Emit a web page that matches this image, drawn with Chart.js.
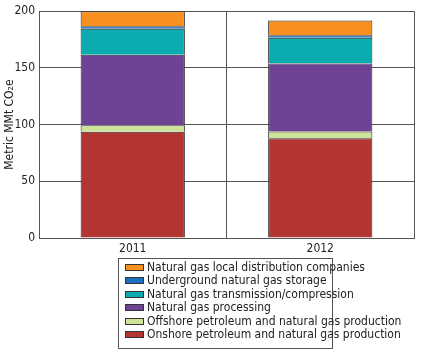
<!DOCTYPE html>
<html>
<head>
<meta charset="utf-8">
<script src="https://cdn.jsdelivr.net/npm/chart.js@4"></script>
<style>
    body { margin: 0; background: #fff; }
    #wrap { position: relative; width: 421px; height: 352px; }
    #legendBox {
        position: absolute; left: 118px; top: 258px; width: 213px; height: 87px;
        border: 1px solid #555; box-sizing: content-box;
        font-family: "Liberation Sans Narrow", "DejaVu Sans Condensed", sans-serif;
        font-size: 12px; color: #222; padding-top: 2px;
    }
    .item { height: 13.4px; line-height: 13.4px; white-space: nowrap; }
    .sw { display: inline-block; width: 17px; height: 5px; border: 1px solid #333; margin: 0 3px 0 6px; vertical-align: middle; }
</style>
</head>
<body>
<div id="wrap">
    <canvas id="chart" width="421" height="352"></canvas>
    <div id="legendBox"></div>
</div>
<script>
    const years = ['2011', '2012'];
    const seriesNames = [
        'Onshore petroleum and natural gas production',
        'Offshore petroleum and natural gas production',
        'Natural gas processing',
        'Natural gas transmission/compression',
        'Underground natural gas storage',
        'Natural gas local distribution companies'
    ];
    const onshore = [93.6, 88.0];
    const offshore = [5.8, 5.9];
    const processing = [62.3, 59.9];
    const transmission = [22.8, 22.8];
    const storage = [2.3, 2.3];
    const ldc = [13.2, 12.9];
    const yTicks = [0, 50, 100, 150, 200];

    const colors = ['#b33532', '#cde39a', '#6f4393', '#0aacb0', '#1f6fc0', '#f7901e'];
    const values = [onshore, offshore, processing, transmission, storage, ldc];

    const fontFam = '"Liberation Sans Narrow", "DejaVu Sans Condensed", sans-serif';

    let ctx = document.getElementById('chart').getContext('2d');
    let chart = new Chart(ctx, {
        type: 'bar',
        data: {
            labels: years,
            datasets: seriesNames.map((name, i) => ({
                label: name,
                data: values[i],
                backgroundColor: colors[i],
                borderColor: '#2a2a2a',
                borderWidth: 1,
                categoryPercentage: 1,
                barPercentage: 0.556
            }))
        },
        options: {
            responsive: false,
            animation: false,
            layout: { padding: { top: 10, right: 7, bottom: 94, left: 3 } },
            plugins: { legend: { display: false }, tooltip: { enabled: false } },
            scales: {
                x: {
                    stacked: true,
                    grid: { offset: true, color: '#555', drawTicks: false },
                    border: { color: '#555' },
                    ticks: { color: '#222', font: { family: fontFam, size: 12 }, padding: 4 },
                    afterFit: s => { s.height = 20; }
                },
                y: {
                    stacked: true,
                    min: 0,
                    max: 200,
                    afterBuildTicks: s => { s.ticks = yTicks.map(v => ({ value: v })); },
                    grid: { color: '#555', drawTicks: false },
                    border: { color: '#555' },
                    ticks: { color: '#222', font: { family: fontFam, size: 12 }, padding: 4 },
                    title: { display: true, text: 'Metric MMt CO\u2082e', color: '#222', font: { family: fontFam, size: 12 }, padding: 0 },
                    afterFit: s => { s.width = 36; }
                }
            }
        }
    });

    // legend in a box, top item = top of stack
    let box = document.getElementById('legendBox');
    chart.data.datasets.slice().reverse().forEach(ds => {
        let row = document.createElement('div');
        row.className = 'item';
        row.innerHTML = '<span class="sw" style="background:' + ds.backgroundColor + '"></span>' + ds.label;
        box.appendChild(row);
    });
</script>
</body>
</html>
